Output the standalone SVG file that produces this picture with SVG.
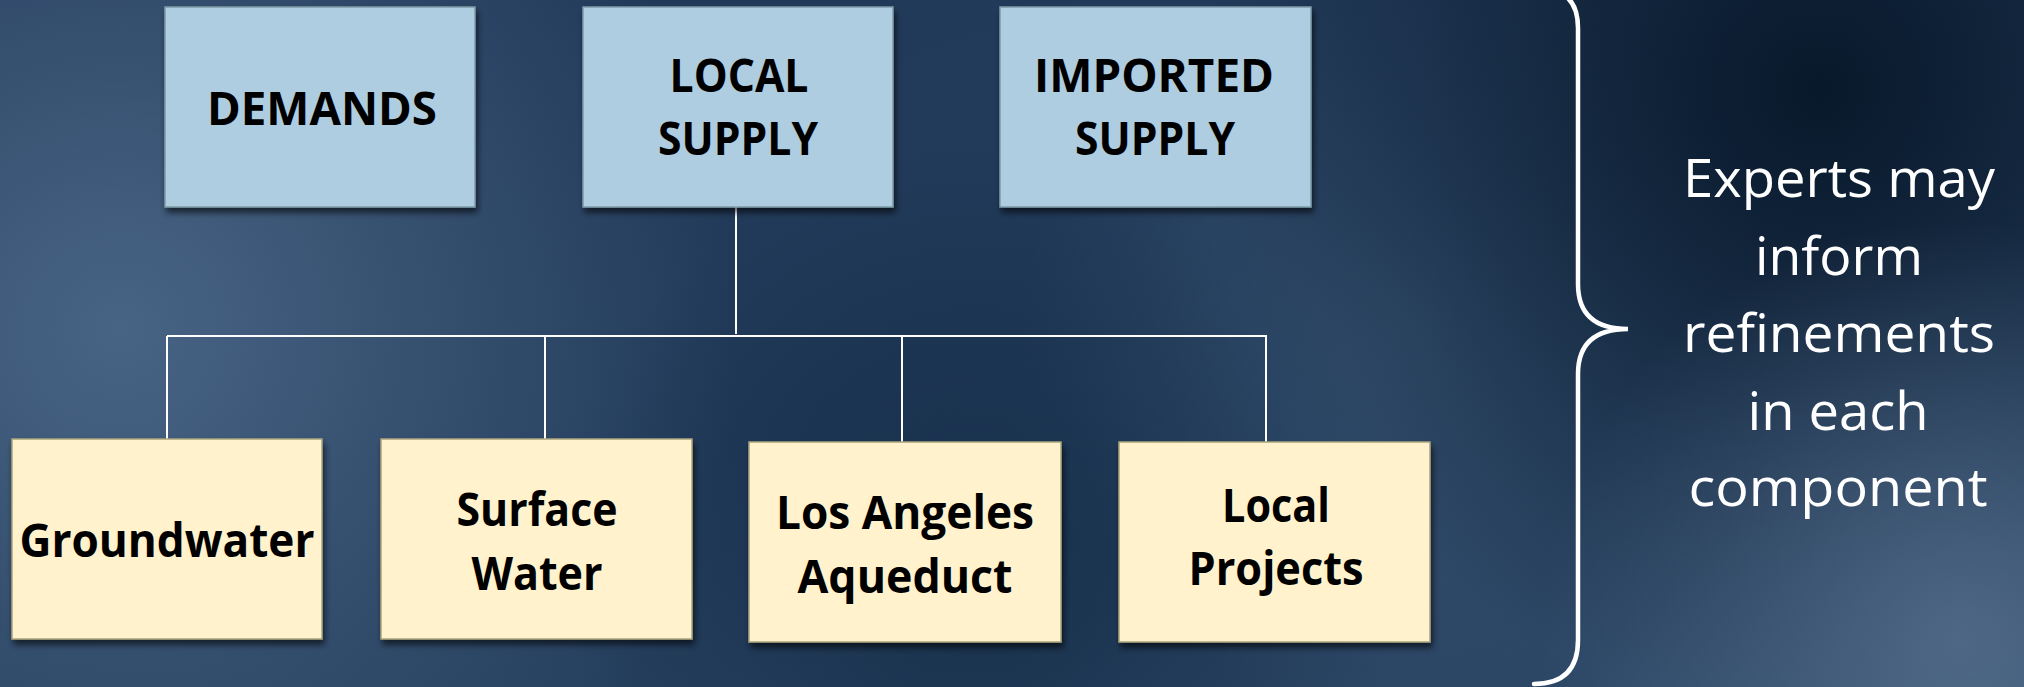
<svg xmlns="http://www.w3.org/2000/svg" width="2024" height="687" viewBox="0 0 2024 687">
<defs>
<style>
.top{fill:#aecde0;stroke:#7d9aa6;stroke-width:1.5}
.bot{fill:#fff2cc;stroke:#a9a47e;stroke-width:1.5}
.lbl{font-family:"Open Sans","Liberation Sans",sans-serif;font-weight:bold;font-size:47px;fill:#000;text-anchor:middle}
.note{font-family:"Open Sans","Liberation Sans",sans-serif;font-size:53px;fill:#fff;text-anchor:middle}
.conn{stroke:#fff;stroke-width:2;fill:none}
</style>
<filter id="sh" x="-10%" y="-10%" width="125%" height="130%">
<feDropShadow dx="2" dy="5" stdDeviation="3" flood-color="#000" flood-opacity="0.6"/>
</filter>
<linearGradient id="bg" x1="0" y1="0" x2="1" y2="1">
<stop offset="0" stop-color="#22395a"/>
<stop offset="0.5" stop-color="#223b5a"/>
<stop offset="1" stop-color="#2f4a69"/>
</linearGradient>
<radialGradient id="l1" cx="120" cy="330" r="620" gradientUnits="userSpaceOnUse">
<stop offset="0" stop-color="#4a6686" stop-opacity="0.95"/>
<stop offset="1" stop-color="#4a6686" stop-opacity="0"/>
</radialGradient>
<radialGradient id="d1" cx="1820" cy="90" r="620" gradientUnits="userSpaceOnUse">
<stop offset="0" stop-color="#071729" stop-opacity="0.95"/>
<stop offset="1" stop-color="#071729" stop-opacity="0"/>
</radialGradient>
<radialGradient id="l2" cx="1960" cy="640" r="420" gradientUnits="userSpaceOnUse">
<stop offset="0" stop-color="#56708e" stop-opacity="0.8"/>
<stop offset="1" stop-color="#56708e" stop-opacity="0"/>
</radialGradient>
<radialGradient id="d2" cx="980" cy="560" r="420" gradientUnits="userSpaceOnUse">
<stop offset="0" stop-color="#102842" stop-opacity="0.7"/>
<stop offset="1" stop-color="#102842" stop-opacity="0"/>
</radialGradient>
<radialGradient id="l3" cx="1400" cy="330" r="380" gradientUnits="userSpaceOnUse">
<stop offset="0" stop-color="#3d5a7a" stop-opacity="0.6"/>
<stop offset="1" stop-color="#3d5a7a" stop-opacity="0"/>
</radialGradient>
</defs>
<g id="background">
<rect width="2024" height="687" fill="url(#bg)"/>
<rect width="2024" height="687" fill="url(#l1)"/>
<rect width="2024" height="687" fill="url(#l3)"/>
<rect width="2024" height="687" fill="url(#d2)"/>
<rect width="2024" height="687" fill="url(#d1)"/>
<rect width="2024" height="687" fill="url(#l2)"/>
</g>
<g id="connectors">
<line class="conn" x1="736" y1="203" x2="736" y2="334"/>
<line class="conn" x1="167" y1="336" x2="1267" y2="336"/>
<line class="conn" x1="167" y1="336" x2="167" y2="440"/>
<line class="conn" x1="545" y1="336" x2="545" y2="440"/>
<line class="conn" x1="902" y1="336" x2="902" y2="443"/>
<line class="conn" x1="1266" y1="336" x2="1266" y2="443"/>
</g>
<g id="demands">
<rect class="top" x="165" y="7" width="310" height="200" filter="url(#sh)"/>
<text class="lbl" x="322" y="125" textLength="230" lengthAdjust="spacingAndGlyphs">DEMANDS</text>
</g>
<g id="local-supply">
<rect class="top" x="583" y="7" width="310" height="200" filter="url(#sh)"/>
<text class="lbl" x="739" y="92" textLength="139" lengthAdjust="spacingAndGlyphs">LOCAL</text>
<text class="lbl" x="738" y="155" textLength="160" lengthAdjust="spacingAndGlyphs">SUPPLY</text>
</g>
<g id="imported-supply">
<rect class="top" x="1000" y="7" width="311" height="200" filter="url(#sh)"/>
<text class="lbl" x="1154" y="92" textLength="240" lengthAdjust="spacingAndGlyphs">IMPORTED</text>
<text class="lbl" x="1155" y="155" textLength="160" lengthAdjust="spacingAndGlyphs">SUPPLY</text>
</g>
<g id="groundwater">
<rect class="bot" x="12" y="439" width="310" height="200" filter="url(#sh)"/>
<text class="lbl" x="167" y="557" textLength="295" lengthAdjust="spacingAndGlyphs">Groundwater</text>
</g>
<g id="surface-water">
<rect class="bot" x="381" y="439" width="311" height="200" filter="url(#sh)"/>
<text class="lbl" x="537" y="526" textLength="161" lengthAdjust="spacingAndGlyphs">Surface</text>
<text class="lbl" x="537" y="590" textLength="131" lengthAdjust="spacingAndGlyphs">Water</text>
</g>
<g id="los-angeles-aqueduct">
<rect class="bot" x="749" y="442" width="312" height="200" filter="url(#sh)"/>
<text class="lbl" x="905" y="529" textLength="258" lengthAdjust="spacingAndGlyphs">Los Angeles</text>
<text class="lbl" x="905" y="593" textLength="215" lengthAdjust="spacingAndGlyphs">Aqueduct</text>
</g>
<g id="local-projects">
<rect class="bot" x="1119" y="442" width="311" height="200" filter="url(#sh)"/>
<text class="lbl" x="1276" y="522" textLength="108" lengthAdjust="spacingAndGlyphs">Local</text>
<text class="lbl" x="1276" y="585" textLength="175" lengthAdjust="spacingAndGlyphs">Projects</text>
</g>
<g id="brace">
<path d="M1538,-12 Q1578,-12 1578,28 L1578,284 Q1578,329 1628,329 Q1578,329 1578,374 L1578,640 Q1578,684 1534,684" fill="none" stroke="#fff" stroke-width="4.5" stroke-linecap="round"/>
</g>
<g id="note">
<text class="note" x="1839" y="197" textLength="312" lengthAdjust="spacingAndGlyphs">Experts may</text>
<text class="note" x="1839" y="275" textLength="168" lengthAdjust="spacingAndGlyphs">inform</text>
<text class="note" x="1839" y="352" textLength="312" lengthAdjust="spacingAndGlyphs">refinements</text>
<text class="note" x="1838" y="430" textLength="181" lengthAdjust="spacingAndGlyphs">in each</text>
<text class="note" x="1838" y="506" textLength="299" lengthAdjust="spacingAndGlyphs">component</text>
</g>
</svg>
